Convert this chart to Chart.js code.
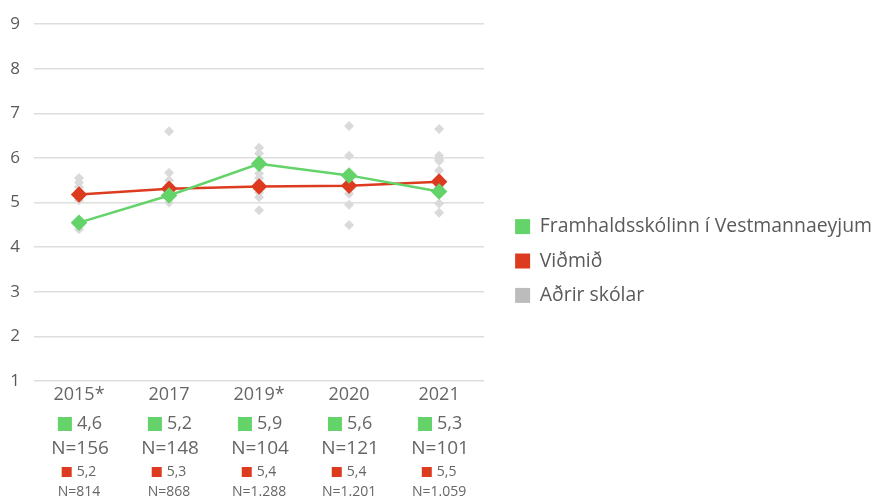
<!DOCTYPE html>
<html>
<head>
<meta charset="utf-8">
<script src="https://cdn.jsdelivr.net/npm/chart.js@4"></script>
<style>
  html, body { margin: 0; padding: 0; background: #fff; }
  #wrap { width: 877px; height: 499px; position: relative; }
</style>
</head>
<body>
<div id="wrap"><canvas id="chart"></canvas></div>
<script>
// --- data ---
const years = ['2015*', '2017', '2019*', '2020', '2021'];
const schoolValues = [4.55, 5.16, 5.87, 5.61, 5.25];
const benchmarkValues = [5.18, 5.31, 5.36, 5.38, 5.47];
const schoolLabels = ['4,6', '5,2', '5,9', '5,6', '5,3'];
const schoolN = ['N=156', 'N=148', 'N=104', 'N=121', 'N=101'];
const benchmarkLabels = ['5,2', '5,3', '5,4', '5,4', '5,5'];
const benchmarkN = ['N=814', 'N=868', 'N=1.288', 'N=1.201', 'N=1.059'];
// other schools, one list per year
const others2015 = [5.55, 5.45, 5.35, 5.1, 5.05, 4.4];
const others2017 = [6.6, 5.67, 5.5, 5.4, 5.1, 5.0];
const others2019 = [6.23, 6.1, 5.95, 5.65, 5.55, 5.45, 5.23, 5.12, 4.83];
const others2020 = [6.72, 6.05, 5.5, 5.2, 4.95, 4.5];
const others2021 = [6.65, 6.05, 5.97, 5.93, 5.72, 5.35, 4.98, 4.77];
const yTicks = [1, 2, 3, 4, 5, 6, 7, 8, 9];

const colors = {
  school: '#63d36a',
  benchmark: '#dc3b1f',
  others: '#dadada',
  othersLegend: '#bcbcbc',
  grid: '#dedede',
  text: '#5a5a5a'
};
const FONT = "'Open Sans', sans-serif";

const othersPoints = [];
[others2015, others2017, others2019, others2020, others2021].forEach((list, i) => {
  list.forEach(v => othersPoints.push({ x: years[i], y: v }));
});

// draws the table of values under each year
const bottomLabels = {
  id: 'bottomLabels',
  afterDraw(chart) {
    const ctx = chart.ctx;
    const xs = chart.scales.x;
    ctx.save();
    ctx.textBaseline = 'middle';
    years.forEach((yr, i) => {
      const x = xs.getPixelForValue(i);
      ctx.fillStyle = '#666';
      ctx.textAlign = 'center';
      ctx.font = `18px ${FONT}`;
      ctx.fillText(yr, x, 395);

      // green row
      ctx.font = `18px ${FONT}`;
      let w = ctx.measureText(schoolLabels[i]).width;
      let total = 14 + 5 + w;
      let sx = x - total / 2 + 1;
      ctx.fillStyle = colors.school;
      ctx.fillRect(sx, 417, 14, 14);
      ctx.fillStyle = '#666';
      ctx.textAlign = 'left';
      ctx.fillText(schoolLabels[i], sx + 19, 424);

      ctx.textAlign = 'center';
      ctx.font = `19px ${FONT}`;
      ctx.fillText(schoolN[i], x + 1, 449);

      // red row
      ctx.font = `14px ${FONT}`;
      w = ctx.measureText(benchmarkLabels[i]).width;
      total = 10 + 5 + w;
      sx = x - total / 2;
      ctx.fillStyle = colors.benchmark;
      ctx.fillRect(sx, 467, 10, 10);
      ctx.fillStyle = '#666';
      ctx.textAlign = 'left';
      ctx.fillText(benchmarkLabels[i], sx + 15, 472);

      ctx.textAlign = 'center';
      ctx.font = `14px ${FONT}`;
      ctx.fillText(benchmarkN[i], x, 492);
    });
    ctx.restore();
  }
};

new Chart(document.getElementById('chart'), {
  type: 'line',
  data: {
    labels: years,
    datasets: [
      {
        label: 'Framhaldsskólinn í Vestmannaeyjum',
        data: schoolValues,
        borderColor: colors.school,
        backgroundColor: colors.school,
        borderWidth: 2.5,
        pointStyle: 'rectRot',
        pointRadius: 6.5,
        order: 1
      },
      {
        label: 'Viðmið',
        data: benchmarkValues,
        borderColor: colors.benchmark,
        backgroundColor: colors.benchmark,
        borderWidth: 2.5,
        pointStyle: 'rectRot',
        pointRadius: 6.5,
        order: 2
      },
      {
        label: 'Aðrir skólar',
        data: othersPoints,
        showLine: false,
        borderColor: colors.others,
        backgroundColor: colors.others,
        borderWidth: 0,
        pointStyle: 'rectRot',
        pointRadius: 5,
        order: 3
      }
    ]
  },
  options: {
    responsive: true,
    maintainAspectRatio: false,
    animation: false,
    layout: { padding: { top: 23, left: 0, right: -5, bottom: 0 } },
    plugins: {
      tooltip: { enabled: false },
      legend: {
        position: 'right',
        align: 'center',
        maxWidth: 420,
        labels: {
          font: { size: 19.4, family: FONT },
          color: colors.text,
          boxWidth: 15,
          boxHeight: 15,
          padding: 15,
          generateLabels(chart) {
            return chart.data.datasets.map((ds, i) => ({
              text: ds.label,
              fillStyle: i === 2 ? colors.othersLegend : ds.backgroundColor,
              strokeStyle: i === 2 ? colors.othersLegend : ds.backgroundColor,
              lineWidth: 0,
              datasetIndex: i,
              fontColor: colors.text
            }));
          }
        }
      }
    },
    scales: {
      x: {
        offset: true,
        grid: { display: false },
        border: { display: false },
        ticks: { display: false },
        afterFit(scale) { scale.height = 118; }
      },
      y: {
        min: 1,
        max: 9,
        border: { display: false },
        grid: { color: colors.grid, lineWidth: 1.5, drawTicks: false },
        ticks: {
          stepSize: 1,
          padding: 14,
          color: colors.text,
          font: { size: 17, family: FONT },
          callback: v => yTicks.includes(v) ? v : ''
        },
        afterFit(scale) { scale.width = 34; }
      },
      gap: {
        position: 'right',
        display: true,
        grid: { display: false },
        border: { display: false },
        ticks: { display: false },
        afterFit(scale) { scale.width = 16; }
      }
    }
  },
  plugins: [bottomLabels]
});
</script>
</body>
</html>
